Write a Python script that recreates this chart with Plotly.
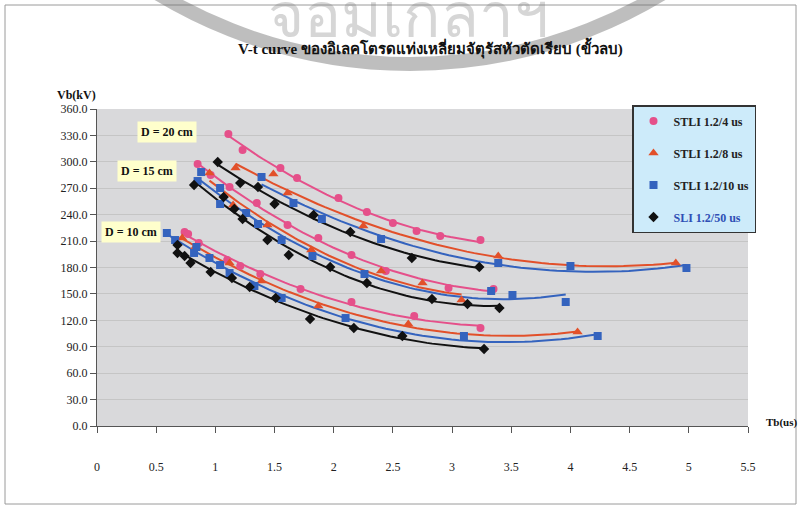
import numpy as np
import plotly.graph_objects as go

# Tb (us) / Vb (kV) readings, per impulse shape and gap D
t_4_20 = [1.11, 1.23, 1.55, 1.69, 2.04, 2.28, 2.50, 2.70, 2.90, 3.24]
v_4_20 = [331.6, 313.4, 293.0, 281.6, 258.9, 243.0, 230.5, 221.4, 215.8, 211.2]
t_4_15 = [0.85, 0.96, 1.12, 1.35, 1.61, 1.87, 2.15, 2.44, 2.97, 3.35]
v_4_15 = [297.5, 285.0, 271.4, 253.2, 228.3, 213.5, 194.2, 176.0, 156.8, 155.6]
t_4_10 = [0.74, 0.77, 0.86, 1.10, 1.21, 1.38, 1.72, 2.15, 2.68, 3.24]
v_4_10 = [220.3, 218.0, 207.8, 188.5, 181.7, 172.6, 155.6, 140.8, 124.9, 111.3]

t_8_20 = [1.17, 1.49, 1.61, 2.25, 3.39, 4.89]
v_8_20 = [293.0, 286.2, 264.6, 227.0, 193.0, 185.1]
t_8_15 = [0.95, 1.15, 1.44, 1.81, 2.40, 2.75, 3.08]
v_8_15 = [287.3, 251.0, 228.3, 199.9, 176.0, 162.4, 143.1]
t_8_10 = [0.72, 0.83, 1.12, 1.39, 1.87, 2.63, 4.06]
v_8_10 = [213.5, 203.3, 185.1, 164.7, 136.3, 115.8, 106.7]

t_10_20 = [1.39, 1.66, 1.90, 2.40, 3.39, 4.00, 4.98]
v_10_20 = [282.8, 253.2, 235.1, 212.4, 185.1, 181.7, 179.4]
t_10_15 = [0.88, 0.85, 1.04, 1.04, 1.26, 1.36, 1.56, 1.82, 2.26, 3.33, 3.51, 3.96]
v_10_15 = [288.4, 278.2, 270.3, 252.1, 241.9, 229.4, 211.2, 193.0, 172.6, 153.3, 148.8, 140.8]
t_10_10 = [0.59, 0.66, 0.84, 0.82, 0.95, 1.04, 1.12, 1.33, 1.56, 2.10, 3.10, 4.23]
v_10_10 = [219.2, 211.2, 203.3, 196.5, 190.8, 182.8, 173.7, 159.0, 145.4, 122.6, 102.2, 102.2]

t_50_20 = [1.02, 1.21, 1.36, 1.50, 1.83, 2.14, 2.66, 3.23]
v_50_20 = [299.8, 276.0, 271.4, 252.1, 239.6, 220.3, 190.8, 180.6]
t_50_15 = [0.82, 1.07, 1.16, 1.23, 1.44, 1.62, 1.97, 2.28, 2.83, 3.13, 3.40]
v_50_15 = [273.7, 260.0, 246.4, 235.1, 211.2, 194.2, 180.6, 162.4, 144.2, 138.5, 134.0]
t_50_10 = [0.68, 0.68, 0.74, 0.79, 0.96, 1.14, 1.29, 1.51, 1.80, 2.17, 2.58, 3.27]
v_50_10 = [205.5, 196.5, 193.0, 185.1, 174.9, 168.1, 157.9, 145.4, 121.5, 111.3, 102.2, 87.4]

series = [
    ("STLI 1.2/4 us", "#E5508A", "circle", 8,
     [(t_4_20, v_4_20), (t_4_15, v_4_15), (t_4_10, v_4_10)]),
    ("STLI 1.2/8 us", "#E2502A", "triangle-up", 9,
     [(t_8_20, v_8_20), (t_8_15, v_8_15), (t_8_10, v_8_10)]),
    ("STLI 1.2/10 us", "#3463BE", "square", 8,
     [(t_10_20, v_10_20), (t_10_15, v_10_15), (t_10_10, v_10_10)]),
    ("<span style='color:#2F4FB5'>SLI 1.2/50 us</span>", "#111111", "diamond", 8,
     [(t_50_20, v_50_20), (t_50_15, v_50_15), (t_50_10, v_50_10)]),
]

SERIF = "Liberation Serif, Times New Roman, serif"

fig = go.Figure()

# 2nd order trendlines (like the Excel ones), fitted to each group
for name, color, symbol, size, groups in series:
    for t, v in groups:
        coef = np.polyfit(t, v, 2)
        tt = np.linspace(min(t), max(t), 60)
        fig.add_trace(go.Scatter(
            x=tt, y=np.polyval(coef, tt), mode="lines",
            line=dict(color=color, width=2), showlegend=False, hoverinfo="skip",
        ))

for i, (name, color, symbol, size, groups) in enumerate(series):
    xs, ys = [], []
    for t, v in groups:
        xs += list(t)
        ys += list(v)
    fig.add_trace(go.Scatter(
        x=xs, y=ys, mode="markers", name=name, legendgroup=f"g{i}",
        marker=dict(color=color, symbol=symbol, size=size, line=dict(width=0)),
    ))


# page pixel -> paper helpers (plot area is 97..748 x 109..426)
def px(x):
    return (x - 97) / 651


def py(y):
    return (426 - y) / 317


annotations = [
    dict(text="<b>V-t curve ของอิเลคโตรดแท่งเหลี่ยมจัตุรัสหัวตัดเรียบ (ขั้วลบ)</b>",
         x=px(430), y=py(48), font=dict(size=15, color="#111")),
    dict(text="<b>Vb(kV)</b>", x=px(76), y=py(95), font=dict(size=12, color="#111")),
    dict(text="<b>Tb(us)</b>", x=px(782), y=py(422), font=dict(size=11, color="#111")),
    dict(text="<b>D = 20 cm</b>", x=px(167), y=py(132), bgcolor="#FFFFCC", borderpad=3,
         font=dict(size=12, color="#111")),
    dict(text="<b>D = 15 cm</b>", x=px(147), y=py(171), bgcolor="#FFFFCC", borderpad=3,
         font=dict(size=12, color="#111")),
    dict(text="<b>D = 10 cm</b>", x=px(131), y=py(232), bgcolor="#FFFFCC", borderpad=3,
         font=dict(size=12, color="#111")),
    # scan watermark
    dict(text="จอมเกล้าฯ", x=px(408), y=py(16), font=dict(size=62, color="rgba(120,120,120,0.3)")),
]
for a in annotations:
    a.update(xref="paper", yref="paper", showarrow=False, xanchor="center", yanchor="middle")
    a["font"]["family"] = SERIF

shapes = [
    dict(type="rect", xref="paper", yref="paper", x0=px(5), x1=px(796), y0=py(504), y1=py(5),
         line=dict(color="#9A9A9A", width=1)),
    dict(type="circle", xref="paper", yref="paper", x0=px(410 - 487), x1=px(410 + 487),
         y0=py(64), y1=py(64 - 974), line=dict(color="rgba(110,110,110,0.45)", width=14)),
]

fig.update_layout(
    width=800, height=510,
    margin=dict(l=97, r=52, t=109, b=84),
    paper_bgcolor="white",
    plot_bgcolor="#D9D9DB",
    font=dict(family=SERIF, size=12, color="#222"),
    annotations=annotations,
    shapes=shapes,
    legend=dict(
        x=px(632), y=py(105), xanchor="left", yanchor="top",
        bgcolor="#CDEBFA", bordercolor="#333", borderwidth=1.5,
        font=dict(family=SERIF, size=12, color="#222", weight="bold"),
        tracegroupgap=13, itemwidth=30,
    ),
    xaxis=dict(
        range=[0, 5.5], tick0=0, dtick=0.5, showgrid=False, zeroline=False,
        showline=True, linecolor="#555", linewidth=1,
        ticks="outside", ticklen=6, tickcolor="#555",
        ticklabelstandoff=24, tickfont=dict(size=12),
    ),
    yaxis=dict(
        range=[0, 360], tick0=0, dtick=30, tickformat=".1f",
        showgrid=True, gridcolor="#C5C5C5", zeroline=False,
        showline=True, linecolor="#555", linewidth=1,
        ticks="outside", ticklen=6, tickcolor="#555",
        tickfont=dict(size=12),
    ),
)

# drop the default 8px page margin so the 800x510 figure fills the window
fig.write_html(
    "out.html",
    config={"displayModeBar": False},
    post_script="document.body.style.margin='0';document.body.style.overflow='hidden';",
)
